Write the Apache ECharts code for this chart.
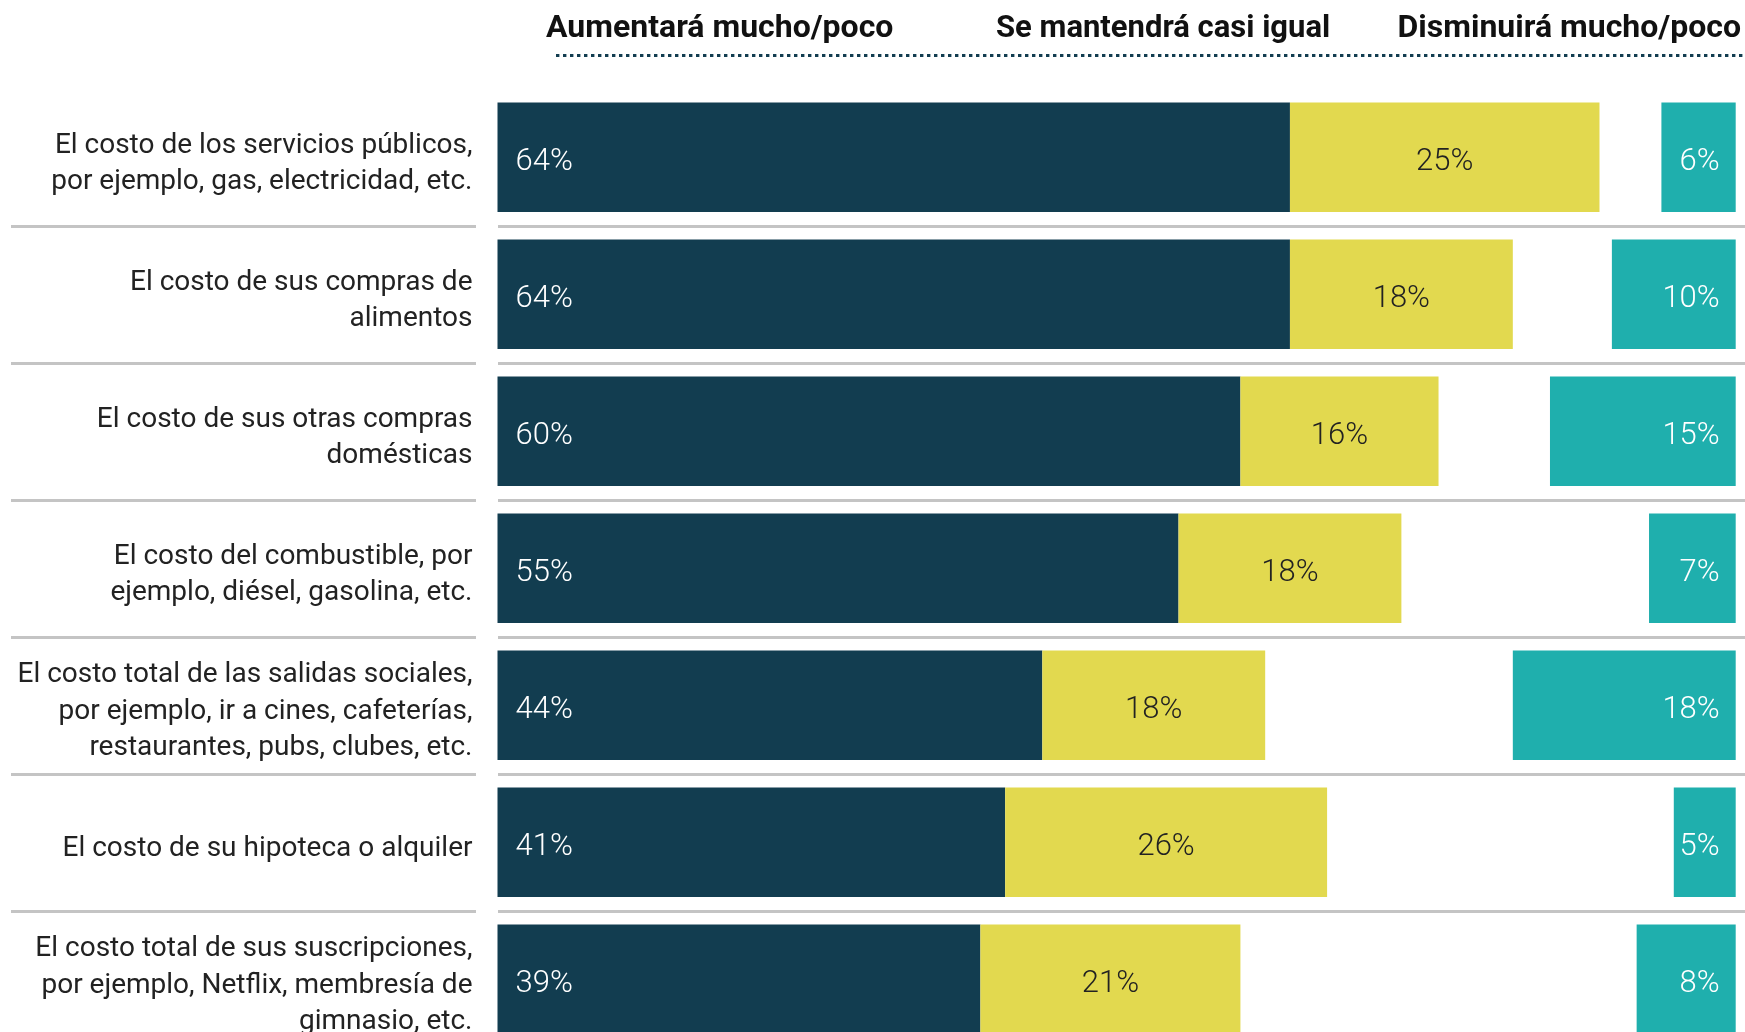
<!DOCTYPE html>
<html>
<head>
<meta charset="utf-8">
<script src="https://cdn.jsdelivr.net/npm/echarts@6/dist/echarts.min.js"></script>
<style>
html,body{margin:0;padding:0;background:#fff;overflow:hidden;}
#chart{width:1745px;height:1100px;}
</style>
</head>
<body>
<div id="chart"></div>
<script>
const categories = [
  'El costo de los servicios públicos,\npor ejemplo, gas, electricidad, etc.',
  'El costo de sus compras de\nalimentos',
  'El costo de sus otras compras\ndomésticas',
  'El costo del combustible, por\nejemplo, diésel, gasolina, etc.',
  'El costo total de las salidas sociales,\npor ejemplo, ir a cines, cafeterías,\nrestaurantes, pubs, clubes, etc.',
  'El costo de su hipoteca o alquiler',
  'El costo total de sus suscripciones,\npor ejemplo, Netflix, membresía de\ngimnasio, etc.'
];
const aumentara = [64, 64, 60, 55, 44, 41, 39];
const mantendra = [25, 18, 16, 18, 18, 26, 21];
const disminuira = [6, 10, 15, 7, 18, 5, 8];
const headers = ['Aumentará mucho/poco', 'Se mantendrá casi igual', 'Disminuirá mucho/poco'];

const DARK = '#123d50', YELLOW = '#e2d94f', TEAL = '#1fafad';
const FONT = 'Roboto';
const GT = 88.8, GH = 959;

const sepAxis = (gi) => ({
  gridIndex: gi, type: 'value', min: 0, max: categories.length, interval: 1, inverse: true,
  axisLine: {show: false}, axisTick: {show: false}, axisLabel: {show: false},
  splitLine: {show: true, showMinLine: false, showMaxLine: false, lineStyle: {color: '#c4c4c4', width: 3}}
});

const valLabel = (pos, color, dist) => ({
  show: true, position: pos, distance: dist, formatter: '{c}%', offset: [0, 5],
  color: color, fontFamily: FONT, fontWeight: 300, fontSize: 31
});

const chart = echarts.init(document.getElementById('chart'), null, {renderer: 'canvas'});
chart.setOption({
  animation: false,
  backgroundColor: '#fff',
  grid: [
    {left: 497.5, right: 9.3, top: GT, height: GH},
    {left: 11, width: 465, top: GT, height: GH},
    {left: 498, right: 0, top: GT, height: GH},
    {left: 497.5, right: 9.3, top: GT + 6.5, height: GH}
  ],
  xAxis: [
    {gridIndex: 0, type: 'value', min: 0, max: 100, show: false},
    {gridIndex: 0, type: 'value', min: 0, max: 100, inverse: true, show: false},
    {gridIndex: 1, type: 'value', min: 0, max: 1, show: false},
    {gridIndex: 2, type: 'value', min: 0, max: 1, show: false},
    {gridIndex: 3, type: 'value', min: 0, max: 1, show: false}
  ],
  yAxis: [
    {
      gridIndex: 0, type: 'category', data: categories, inverse: true,
      axisLine: {show: false}, axisTick: {show: false}, splitLine: {show: false}, axisLabel: {show: false}
    },
    sepAxis(1),
    sepAxis(2),
    {
      gridIndex: 3, type: 'category', data: categories, inverse: true,
      axisLine: {show: false}, axisTick: {show: false}, splitLine: {show: false},
      axisLabel: {align: 'right', margin: 25, fontSize: 28, lineHeight: 36.5, color: '#222', fontFamily: FONT}
    }
  ],
  series: [
    {
      name: headers[0], type: 'bar', xAxisIndex: 0, yAxisIndex: 0, stack: 'a',
      data: aumentara, itemStyle: {color: DARK},
      barCategoryGap: '20%', barGap: '-100%',
      label: valLabel('insideLeft', '#fff', 18), emphasis: {disabled: true}
    },
    {
      name: headers[1], type: 'bar', xAxisIndex: 0, yAxisIndex: 0, stack: 'a',
      data: mantendra, itemStyle: {color: YELLOW},
      barCategoryGap: '20%', barGap: '-100%',
      label: valLabel('inside', '#222', 5), emphasis: {disabled: true}
    },
    {
      name: headers[2], type: 'bar', xAxisIndex: 1, yAxisIndex: 0,
      data: disminuira, itemStyle: {color: TEAL},
      barCategoryGap: '20%', barGap: '-100%',
      label: valLabel('insideRight', '#fff', 16), emphasis: {disabled: true}
    }
  ],
  graphic: [
    {type: 'text', x: 546, y: 29, style: {text: headers[0], font: 'bold 32px Roboto', fill: '#111', align: 'left', verticalAlign: 'middle'}},
    {type: 'text', x: 996, y: 29, style: {text: headers[1], font: 'bold 31px Roboto', fill: '#111', align: 'left', verticalAlign: 'middle'}},
    {type: 'text', x: 1741, y: 29, style: {text: headers[2], font: 'bold 32px Roboto', fill: '#111', align: 'right', verticalAlign: 'middle'}},
    {type: 'line', shape: {x1: 556, y1: 55.5, x2: 1745, y2: 55.5}, style: {stroke: DARK, lineWidth: 3, lineDash: [3.4, 3.6]}}
  ]
});
</script>
</body>
</html>
